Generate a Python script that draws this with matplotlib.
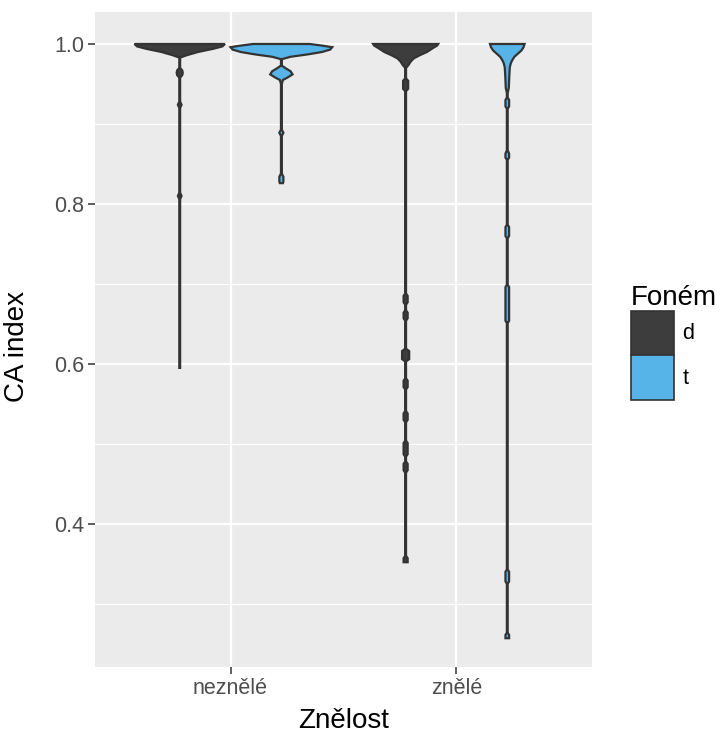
import numpy as np
import matplotlib
matplotlib.use("Agg")
import matplotlib.pyplot as plt
from matplotlib.patches import Patch

plt.rcParams['font.family'] = ['Liberation Sans', 'DejaVu Sans']

# categories
groups = ['neznělé', 'znělé']
phonemes = ['d', 't']
colors = {'d': '#3d3d3d', 't': '#56B4E9'}
y_ticks = [0.4, 0.6, 0.8, 1.0]

# violin profiles: CA index value -> relative density
nez_d_y = [1.000, 0.997, 0.994, 0.990, 0.986, 0.983, 0.970, 0.967, 0.964, 0.961, 0.958,
           0.928, 0.924, 0.920, 0.814, 0.810, 0.806, 0.595]
nez_d_w = [44.5, 42, 33, 18, 7, 0.4, 0.4, 2.5, 3.0, 2.5, 0.4,
           0.4, 1.8, 0.4, 0.4, 1.8, 0.4, 0.4]

nez_t_y = [1.000, 0.998, 0.996, 0.993, 0.990, 0.987, 0.984, 0.981, 0.973, 0.969, 0.966,
           0.962, 0.958, 0.955, 0.950, 0.893, 0.889, 0.885, 0.838, 0.834, 0.828, 0.826]
nez_t_w = [28, 40, 50, 48, 40, 26, 9, 0.4, 0.4, 5, 9,
           11, 6, 1.5, 0.4, 0.4, 2.0, 0.4, 0.4, 2.0, 2.0, 1.5]

zne_d_y = [1.000, 0.998, 0.995, 0.990, 0.986, 0.982, 0.978, 0.974, 0.970, 0.957, 0.954,
           0.944, 0.941, 0.688, 0.685, 0.677, 0.674, 0.667, 0.664, 0.657, 0.654,
           0.619, 0.616, 0.606, 0.603, 0.582, 0.579, 0.571, 0.568, 0.541, 0.538,
           0.530, 0.527, 0.504, 0.501, 0.487, 0.484, 0.478, 0.475, 0.467, 0.464,
           0.360, 0.357, 0.352]
zne_d_w = [32, 31, 27, 21, 14, 8, 5, 3, 0.4, 0.4, 2.5,
           2.5, 0.4, 0.4, 2.0, 2.0, 0.4, 0.4, 2.0, 2.0, 0.4,
           0.4, 3.5, 3.5, 0.4, 0.4, 2.0, 2.0, 0.4, 0.4, 2.0,
           2.0, 0.4, 0.4, 2.0, 2.0, 0.4, 0.4, 2.0, 2.0, 0.4,
           0.4, 2.0, 2.0]

zne_t_y = [1.000, 0.996, 0.992, 0.988, 0.984, 0.980, 0.976, 0.971, 0.960, 0.945, 0.939,
           0.933, 0.930, 0.922, 0.919, 0.867, 0.863, 0.858, 0.855, 0.774, 0.771, 0.760,
           0.757, 0.699, 0.696, 0.654, 0.651, 0.343, 0.340, 0.328, 0.325, 0.264, 0.261,
           0.257]
zne_t_w = [17, 16, 14, 10.5, 7, 5, 3.5, 2.5, 2.0, 1.5, 0.4,
           0.4, 1.8, 1.8, 0.4, 0.4, 1.8, 1.8, 0.4, 0.4, 1.8, 1.8,
           0.4, 0.4, 1.8, 1.8, 0.4, 0.4, 1.8, 1.8, 0.4, 0.4, 1.8,
           1.8]

profiles = {
    ('neznělé', 'd'): (nez_d_y, nez_d_w),
    ('neznělé', 't'): (nez_t_y, nez_t_w),
    ('znělé', 'd'): (zne_d_y, zne_d_w),
    ('znělé', 't'): (zne_t_y, zne_t_w),
}

fig = plt.figure(figsize=(7.21, 7.40), dpi=100)
ax = fig.add_axes([95 / 721, 73 / 740, 497 / 721, 655 / 740])
ax.set_facecolor('#EBEBEB')

# grid like ggplot
for v in [0.3, 0.5, 0.7, 0.9]:
    ax.axhline(v, color='white', lw=0.8, zorder=0)
for v in y_ticks:
    ax.axhline(v, color='white', lw=1.6, zorder=0)
for i in range(len(groups)):
    ax.axvline(i + 1, color='white', lw=1.6, zorder=0)

maxd = max(max(w) for _, w in profiles.values())
half = 0.225  # max half width of a dodged violin
for i, g in enumerate(groups):
    for j, p in enumerate(phonemes):
        yy, ww = profiles[(g, p)]
        yy = np.array(yy)
        ww = np.array(ww) / maxd * half
        xc = i + 1 + (j - 0.5) * 0.45
        xs = np.concatenate([xc - ww, (xc + ww)[::-1]])
        ys = np.concatenate([yy, yy[::-1]])
        ax.fill(xs, ys, facecolor=colors[p], edgecolor='#333333', lw=1.6,
                joinstyle='miter', zorder=2)

ax.set_xlim(0.4, 2.6)
ax.set_ylim(0.221, 1.04)
ax.set_xticks([1, 2])
ax.set_xticklabels(groups)
ax.set_yticks(y_ticks)
ax.set_yticklabels([f'{v:.1f}' for v in y_ticks])
ax.tick_params(length=5, width=1.1, color='#333333', labelcolor='#4D4D4D',
               labelsize=15.5, pad=3)
for s in ax.spines.values():
    s.set_visible(False)

ax.set_xlabel('Znělost', fontsize=20, color='black')
ax.xaxis.set_label_coords(0.5, -0.062)
ax.set_ylabel('CA index', fontsize=20, color='black')
ax.yaxis.set_label_coords(-0.131, 0.49)

handles = [Patch(facecolor=colors[p], edgecolor='#333333', lw=1.2, label=p) for p in phonemes]
leg = fig.legend(handles=handles, title='Foném', loc='upper left',
                 bbox_to_anchor=(622 / 721, 1 - 276 / 740), frameon=False,
                 fontsize=15.5, title_fontsize=20, handlelength=2.0, handleheight=2.8,
                 labelspacing=0.0, handletextpad=0.4, alignment='left', borderaxespad=0)

fig.savefig('out.png', dpi=100)
